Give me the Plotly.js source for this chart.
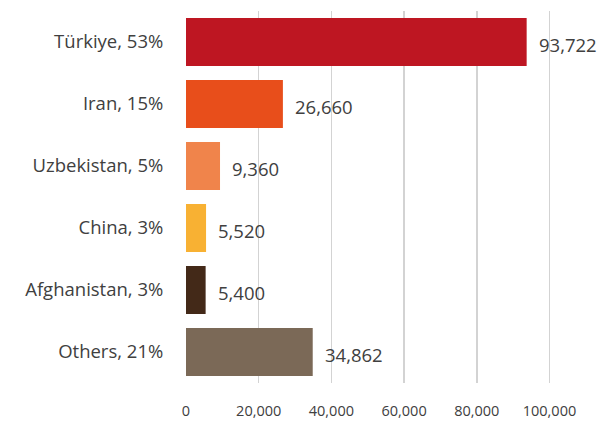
<!DOCTYPE html>
<html>
<head>
<meta charset="utf-8">
<script src="https://cdn.plot.ly/plotly-3.0.1.min.js"></script>
<style>html,body{margin:0;padding:0;background:#fff;}#chart{width:610px;height:421px;}</style>
</head>
<body>
<div id="chart"></div>
<script>
const categories = ["Türkiye, 53%", "Iran, 15%", "Uzbekistan, 5%", "China, 3%", "Afghanistan, 3%", "Others, 21%"];
const values = [93722, 26660, 9360, 5520, 5400, 34862];
const colors = ["#BE1622", "#E84E1B", "#F0844B", "#F8B133", "#432918", "#7B6957"];
const tickVals = [0, 20000, 40000, 60000, 80000, 100000];
const tickText = ["0", "20,000", "40,000", "60,000", "80,000", "100,000"];

const fontFam = "Open Sans, sans-serif";
const textColor = "#404040";

const trace = {
  type: "bar",
  orientation: "h",
  x: values,
  y: categories,
  marker: {color: colors},
  hoverinfo: "skip"
};

const annotations = values.map((v, i) => ({
  x: v, y: categories[i], xref: "x", yref: "y",
  text: v.toLocaleString("en-US"),
  showarrow: false, xanchor: "left", xshift: 10, yshift: -2,
  font: {family: fontFam, size: 18.5, color: textColor}
}));

const layout = {
  width: 610, height: 421,
  margin: {l: 186, r: 6, t: 11, b: 38},
  paper_bgcolor: "#fff", plot_bgcolor: "#fff",
  showlegend: false,
  bargap: 0.226,
  xaxis: {
    range: [0, 115000],
    tickvals: tickVals, ticktext: tickText,
    showgrid: true, gridcolor: "#D3D3D3", gridwidth: 1.5,
    zeroline: false, showline: false,
    ticks: "outside", ticklen: 15, tickcolor: "rgba(0,0,0,0)",
    tickfont: {family: fontFam, size: 14.5, color: textColor},
    fixedrange: true
  },
  yaxis: {
    autorange: "reversed",
    showgrid: false, zeroline: false, showline: false,
    ticks: "outside", ticklen: 18, tickcolor: "rgba(0,0,0,0)",
    tickfont: {family: fontFam, size: 18.5, color: textColor},
    fixedrange: true
  },
  annotations: annotations
};

Plotly.newPlot("chart", [trace], layout, {displayModeBar: false, staticPlot: true});
</script>
</body>
</html>
